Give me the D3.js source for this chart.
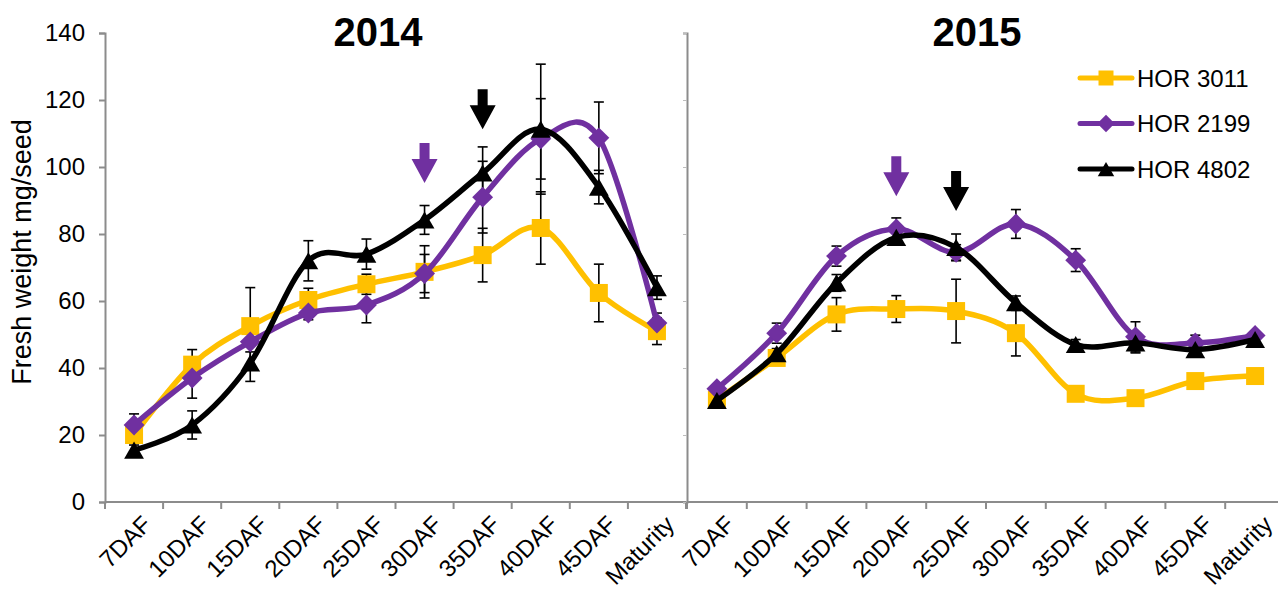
<!DOCTYPE html>
<html>
<head>
<meta charset="utf-8">
<script src="https://cdn.jsdelivr.net/npm/d3@7"></script>
<style>
  html, body { margin: 0; padding: 0; background: #fff; }
  svg { display: block; font-family: "Liberation Sans", Arial, sans-serif; }
</style>
</head>
<body>
<svg id="chart" width="1278" height="599"></svg>
<script>
// Sampling stages on the x axis
const categories = ["7DAF", "10DAF", "15DAF", "20DAF", "25DAF", "30DAF", "35DAF", "40DAF", "45DAF", "Maturity"];
const yTicks = [0, 20, 40, 60, 80, 100, 120, 140];
const seriesNames = ["HOR 3011", "HOR 2199", "HOR 4802"];

// 2014 season: mean fresh weight (mg/seed) and error
const hor3011_2014 = [20, 41, 52.5, 60.3, 65, 68.7, 73.7, 81.8, 62.4, 51];
const hor3011_2014_err = [1.5, 4.5, 11.5, 3.5, 3, 7.8, 8, 10.8, 8.6, 4];
const hor2199_2014 = [23, 37, 47.8, 56.4, 58.8, 68.2, 91, 108.4, 108.7, 53.4];
const hor2199_2014_err = [3.3, 6, 3, 2, 5.3, 5.7, 10.7, 12, 10.7, 3];
const hor4802_2014 = [15.5, 23, 41.5, 72, 74, 84.2, 98.2, 111.3, 94, 64];
const hor4802_2014_err = [1.5, 4.2, 5.5, 6, 4.5, 4.3, 7.8, 19.4, 5, 3.5];

// 2015 season
const hor3011_2015 = [30.5, 43, 56, 57.6, 57, 50.4, 32.3, 31, 36.1, 37.6];
const hor3011_2015_err = [1, 1.5, 5, 4, 9.5, 6.8, 1.5, 1.5, 1.5, 1.5];
const hor2199_2015 = [33.8, 50.4, 73.4, 81.5, 74.5, 83, 72.2, 49.3, 47.5, 49.7];
const hor2199_2015_err = [1, 3, 3, 3.3, 2.3, 4.3, 3.4, 4.5, 2.3, 1];
const hor4802_2015 = [30.3, 44.3, 65.4, 79, 76, 59.5, 47, 47.5, 45.5, 48.5];
const hor4802_2015_err = [1, 1.5, 2.5, 1.5, 4, 2, 1.5, 3, 1.5, 1];

// Arrows marking key stages: year, stage, arrow tip value, line
const arrowYears = ["2014", "2014", "2015", "2015"];
const arrowStages = ["30DAF", "35DAF", "20DAF", "25DAF"];
const arrowTips = [95.2, 111.3, 91.3, 86.9];
const arrowSeries = ["HOR 2199", "HOR 4802", "HOR 2199", "HOR 4802"];

const colors = { "HOR 3011": "#FFC000", "HOR 2199": "#7030A0", "HOR 4802": "#000000" };
const shapes = { "HOR 3011": "square", "HOR 2199": "diamond", "HOR 4802": "triangle" };

const panels = [
  { year: "2014", range: [105, 686], titleX: 378,
    series: [
      { name: "HOR 3011", values: hor3011_2014, err: hor3011_2014_err },
      { name: "HOR 2199", values: hor2199_2014, err: hor2199_2014_err },
      { name: "HOR 4802", values: hor4802_2014, err: hor4802_2014_err }
    ] },
  { year: "2015", range: [687, 1285], titleX: 977,
    series: [
      { name: "HOR 3011", values: hor3011_2015, err: hor3011_2015_err },
      { name: "HOR 2199", values: hor2199_2015, err: hor2199_2015_err },
      { name: "HOR 4802", values: hor4802_2015, err: hor4802_2015_err }
    ] }
];

const svg = d3.select("#chart");
const y = d3.scaleLinear().domain([0, 140]).range([502, 33]);
const axisColor = "#8c8c8c";

function markerPath(shape, s) {
  if (shape === "square") {
    return `M${-s/2},${-s/2}H${s/2}V${s/2}H${-s/2}Z`;
  } else if (shape === "diamond") {
    const r = s * 0.58;
    return `M0,${-r}L${r},0L0,${r}L${-r},0Z`;
  } else {
    const w = s * 1.1, h = s * 0.95;
    return `M0,${-h/2}L${w/2},${h/2}L${-w/2},${h/2}Z`;
  }
}

// Y axis (left panel only carries labels)
const yAxis = d3.axisLeft(y).tickValues(yTicks).tickSize(6).tickPadding(14);
const gy = svg.append("g").attr("transform", "translate(105,0)").call(yAxis);
gy.select(".domain").attr("stroke", axisColor).attr("stroke-width", 2);
gy.selectAll(".tick line").attr("stroke", axisColor).attr("stroke-width", 2);
gy.selectAll(".tick text").attr("font-size", 24).attr("fill", "#000")
  .attr("font-family", "Liberation Sans, Arial, sans-serif");

svg.append("text")
  .attr("transform", "translate(31,252) rotate(-90)")
  .attr("text-anchor", "middle")
  .attr("font-size", 27)
  .text("Fresh weight mg/seed");

panels.forEach((p, pi) => {
  const x = d3.scaleBand().domain(categories).range(p.range).padding(0);
  const cx = d => x(d) + x.bandwidth() / 2;

  // Panel y axis for the second panel (divider line with small ticks)
  if (pi === 1) {
    const ay = d3.axisLeft(y).tickValues(yTicks).tickSize(4).tickFormat("");
    const g2 = svg.append("g").attr("transform", `translate(${p.range[0]},0)`).call(ay);
    g2.select(".domain").attr("stroke", axisColor).attr("stroke-width", 2);
    g2.selectAll(".tick line").attr("stroke", "#bdbdbd").attr("stroke-width", 1);
  }

  // X axis: ticks between categories
  const gx = svg.append("g").attr("transform", "translate(0,502)");
  gx.append("line").attr("x1", p.range[0]).attr("x2", p.range[1])
    .attr("stroke", axisColor).attr("stroke-width", 2);
  const edges = categories.map(c => x(c)).concat([p.range[1]]);
  gx.selectAll("line.tk").data(edges.slice(0, pi === 1 ? 10 : 11)).enter().append("line")
    .attr("class", "tk")
    .attr("x1", d => d).attr("x2", d => d).attr("y1", 0).attr("y2", 7)
    .attr("stroke", axisColor).attr("stroke-width", 2);
  gx.selectAll("text").data(categories).enter().append("text")
    .attr("transform", d => `translate(${cx(d) + 7},${12}) rotate(-45)`)
    .attr("text-anchor", "end")
    .attr("dy", "0.7em")
    .attr("font-size", 24)
    .text(d => d);

  // Title
  svg.append("text").attr("x", p.titleX).attr("y", 46)
    .attr("text-anchor", "middle").attr("font-size", 40).attr("font-weight", "bold")
    .text(p.year);

  // Error bars beneath the lines
  p.series.forEach(s => {
    const g = svg.append("g");
    categories.forEach((c, i) => {
      const v = s.values[i], e = s.err[i];
      const xx = cx(c);
      g.append("line").attr("x1", xx).attr("x2", xx).attr("y1", y(v + e)).attr("y2", y(v - e))
        .attr("stroke", "#000").attr("stroke-width", 1.6);
      [v + e, v - e].forEach(t => {
        g.append("line").attr("x1", xx - 5).attr("x2", xx + 5).attr("y1", y(t)).attr("y2", y(t))
          .attr("stroke", "#000").attr("stroke-width", 1.6);
      });
    });
  });

  // Smoothed lines and markers
  const line = d3.line().x((d, i) => cx(categories[i])).y(d => y(d)).curve(d3.curveCardinal.tension(0));
  p.series.forEach(s => {
    svg.append("path").attr("d", line(s.values)).attr("fill", "none")
      .attr("stroke", colors[s.name]).attr("stroke-width", 5.5).attr("stroke-linejoin", "round");
    svg.append("g").selectAll("path").data(s.values).enter().append("path")
      .attr("d", markerPath(shapes[s.name], 18))
      .attr("transform", (d, i) => `translate(${cx(categories[i])},${y(d)})`)
      .attr("fill", colors[s.name]);
  });

  // Arrows above key stages
  arrowYears.forEach((yr, i) => {
    if (yr !== p.year) return;
    const ax = cx(arrowStages[i]);
    const tip = y(arrowTips[i]);
    const len = 40, head = 24, hw = 13, sw = 5;
    const d = `M${ax - sw},${tip - len}H${ax + sw}V${tip - head}H${ax + hw}L${ax},${tip}L${ax - hw},${tip - head}H${ax - sw}Z`;
    svg.append("path").attr("d", d).attr("fill", colors[arrowSeries[i]]);
  });
});

// Legend
const legend = svg.append("g");
seriesNames.forEach((n, i) => {
  const ly = 78 + i * 45.5;
  legend.append("line").attr("x1", 1080).attr("x2", 1132).attr("y1", ly).attr("y2", ly)
    .attr("stroke", colors[n]).attr("stroke-width", 5).attr("stroke-linecap", "round");
  legend.append("path").attr("d", markerPath(shapes[n], 15))
    .attr("transform", `translate(1106,${ly})`).attr("fill", colors[n]);
  legend.append("text").attr("x", 1137).attr("y", ly).attr("dy", "0.36em")
    .attr("font-size", 24).text(n);
});
</script>
</body>
</html>
